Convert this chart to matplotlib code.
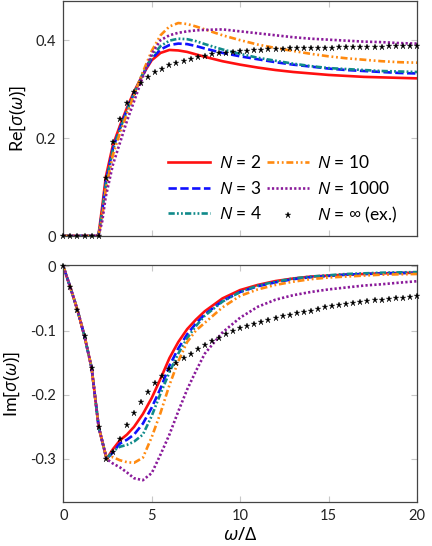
import numpy as np
import matplotlib
matplotlib.use("Agg")
import matplotlib.pyplot as plt

plt.rcParams['font.family'] = ['Lato', 'DejaVu Sans']
plt.rcParams['mathtext.fontset'] = 'custom'
plt.rcParams['mathtext.rm'] = 'Open Sans'
plt.rcParams['mathtext.it'] = 'Open Sans:italic'
plt.rcParams['lines.scale_dashes'] = False

# real part, model curves
w_re = [0, 1.9, 2.0, 2.2, 2.4, 2.8, 3.2, 3.6, 4.0, 4.5, 5.0, 5.5, 6.0, 6.5, 7, 7.5, 8,
        9, 10, 11, 12, 13, 14, 15, 16, 17, 18, 19, 20]
re_n2 = [0, 0, 0.005, 0.06, 0.12, 0.185, 0.225, 0.262, 0.295, 0.330, 0.359, 0.374, 0.380,
         0.379, 0.376, 0.371, 0.366, 0.357, 0.350, 0.344, 0.339, 0.335, 0.332, 0.329,
         0.327, 0.325, 0.324, 0.323, 0.322]
re_n3 = [0, 0, 0.003, 0.05, 0.11, 0.178, 0.22, 0.258, 0.292, 0.330, 0.362, 0.381, 0.390,
         0.393, 0.392, 0.388, 0.383, 0.374, 0.367, 0.361, 0.355, 0.350, 0.346, 0.342,
         0.339, 0.337, 0.335, 0.333, 0.332]
re_n4 = [0, 0, 0.003, 0.05, 0.105, 0.175, 0.218, 0.256, 0.292, 0.332, 0.366, 0.388, 0.399,
         0.403, 0.402, 0.398, 0.392, 0.381, 0.372, 0.364, 0.358, 0.352, 0.347, 0.343,
         0.341, 0.339, 0.337, 0.336, 0.335]
re_n10 = [0, 0, 0.002, 0.04, 0.095, 0.165, 0.21, 0.25, 0.288, 0.335, 0.378, 0.410, 0.428,
          0.435, 0.433, 0.428, 0.422, 0.410, 0.400, 0.391, 0.384, 0.378, 0.372, 0.367,
          0.363, 0.360, 0.357, 0.355, 0.354]
re_n1000 = [0, 0, 0.001, 0.03, 0.08, 0.145, 0.19, 0.235, 0.275, 0.325, 0.372, 0.400, 0.410,
            0.415, 0.418, 0.420, 0.421, 0.422, 0.418, 0.414, 0.410, 0.406, 0.403, 0.401,
            0.399, 0.397, 0.396, 0.394, 0.393]

# imaginary part, model curves
w_im = [0, 0.4, 0.8, 1.2, 1.6, 2.0, 2.45, 2.8, 3.2, 3.6, 4.0, 4.5, 5.0, 5.5, 6.0, 6.5,
        7.0, 7.5, 8.0, 9, 10, 11, 12, 13, 14, 15, 16, 17, 18, 19, 20]
im_head = [0, -0.033, -0.068, -0.109, -0.158, -0.25, -0.30]
im_n2 = im_head + [-0.285, -0.271, -0.262, -0.25, -0.23, -0.205, -0.175, -0.143, -0.118,
                   -0.098, -0.083, -0.070, -0.050, -0.037, -0.029, -0.023, -0.019, -0.016,
                   -0.0145, -0.013, -0.012, -0.011, -0.0105, -0.010]
im_n3 = im_head + [-0.29, -0.276, -0.27, -0.262, -0.245, -0.22, -0.19, -0.155, -0.128,
                   -0.106, -0.089, -0.075, -0.054, -0.040, -0.031, -0.025, -0.020, -0.017,
                   -0.015, -0.013, -0.012, -0.011, -0.0105, -0.010]
im_n4 = im_head + [-0.288, -0.281, -0.278, -0.273, -0.262, -0.233, -0.198, -0.165, -0.136,
                   -0.112, -0.093, -0.077, -0.055, -0.040, -0.030, -0.024, -0.019, -0.016,
                   -0.014, -0.012, -0.011, -0.010, -0.0095, -0.009]
im_n10 = im_head + [-0.297, -0.302, -0.305, -0.306, -0.298, -0.266, -0.228, -0.185, -0.148,
                    -0.118, -0.100, -0.088, -0.064, -0.046, -0.036, -0.029, -0.024, -0.020,
                    -0.0175, -0.016, -0.0145, -0.013, -0.0125, -0.012]
im_n1000 = im_head + [-0.307, -0.313, -0.321, -0.330, -0.333, -0.322, -0.293, -0.262, -0.226,
                      -0.192, -0.163, -0.136, -0.103, -0.080, -0.063, -0.052, -0.045, -0.040,
                      -0.036, -0.033, -0.030, -0.028, -0.0255, -0.0233]

# exact result (stars), every 0.4
w_ex = np.arange(51) * 0.4
re_ex = [0, 0, 0, 0, 0, 0, 0.119, 0.192, 0.238, 0.271, 0.295, 0.312, 0.324, 0.334, 0.342,
         0.349, 0.354, 0.358, 0.361, 0.365, 0.368, 0.371, 0.373, 0.374, 0.376, 0.377,
         0.378, 0.379, 0.380, 0.381, 0.381, 0.382, 0.383, 0.383, 0.384, 0.384, 0.385,
         0.385, 0.385, 0.386, 0.386, 0.386, 0.387, 0.387, 0.387, 0.387, 0.388, 0.388,
         0.388, 0.388, 0.388]
im_ex = [0, -0.033, -0.068, -0.109, -0.158, -0.250, -0.300, -0.289, -0.269, -0.247, -0.228,
         -0.211, -0.196, -0.182, -0.171, -0.160, -0.151, -0.143, -0.136, -0.129, -0.122,
         -0.117, -0.111, -0.105, -0.100, -0.096, -0.093, -0.090, -0.087, -0.084, -0.081,
         -0.078, -0.076, -0.073, -0.071, -0.069, -0.066, -0.064, -0.062, -0.060, -0.059,
         -0.057, -0.056, -0.054, -0.053, -0.052, -0.051, -0.050, -0.049, -0.048, -0.047]

labels = ['$N$ = 2', '$N$ = 3', '$N$ = 4', '$N$ = 10', '$N$ = 1000', r'$N$ = $\infty$ (ex.)']
colors = ['#ff1010', '#1010ff', '#108a8a', '#ff8a10', '#8a1a9a']
dashes = [None, (6, 2.5), (4.5, 1.6, 1.3, 1.6, 1.3, 1.6), (5, 2, 1.3, 2, 1.3, 2), (1.6, 1.6)]

fig = plt.figure(figsize=(4.32, 5.46), dpi=100)
ax1 = fig.add_axes([63.3 / 432, 1 - 236 / 546, 353.7 / 432, 235 / 546])
ax2 = fig.add_axes([63.3 / 432, 1 - 502 / 546, 353.7 / 432, 237 / 546])

re_curves = [re_n2, re_n3, re_n4, re_n10, re_n1000]
im_curves = [im_n2, im_n3, im_n4, im_n10, im_n1000]

for ax, w, curves, ex in [(ax1, w_re, re_curves, re_ex), (ax2, w_im, im_curves, im_ex)]:
    for ys, c, d, lab in zip(curves, colors, dashes, labels):
        line, = ax.plot(w, ys, color=c, lw=1.9, label=lab, dash_capstyle='butt')
        if d is not None:
            line.set_dashes(d)
    ax.plot(w_ex, ex, ls='none', marker='*', ms=5, color='black', mew=0.2,
            label=labels[5], clip_on=False, zorder=5)
    ax.set_xlim(0, 20)
    ax.set_xticks([0, 5, 10, 15, 20])
    ax.tick_params(direction='in', length=4, width=0.8, color='#c8c8c8',
                   top=True, right=True, labelsize=10.5, pad=5, labelcolor='#222222')
    for s in ax.spines.values():
        s.set_color('#444444')
        s.set_linewidth(0.9)

ax1.set_ylim(0, 0.48)
ax1.set_yticks([0, 0.2, 0.4])
ax1.set_yticklabels(['0', '0.2', '0.4'])
ax1.tick_params(labelbottom=False)
ax1.set_ylabel(r'Re$[\sigma(\omega)]$', fontsize=13)
ax1.yaxis.set_label_coords(-0.1, 0.5)

ax2.set_ylim(-0.367, 0.002)
ax2.set_yticks([0, -0.1, -0.2, -0.3])
ax2.set_yticklabels(['0', '-0.1', '-0.2', '-0.3'])
ax2.set_ylabel(r'Im$[\sigma(\omega)]$', fontsize=13)
ax2.yaxis.set_label_coords(-0.118, 0.5)
ax2.set_xlabel(r'$\omega/\Delta$', fontsize=14, labelpad=2)

ax1.legend(ncol=2, frameon=False, loc='lower right', bbox_to_anchor=(0.945, 0.045),
           fontsize=12.5, handlelength=2.4, handletextpad=0.5, columnspacing=0.3,
           labelspacing=0.5, borderaxespad=0, borderpad=0)

fig.savefig('out.png', dpi=100)
